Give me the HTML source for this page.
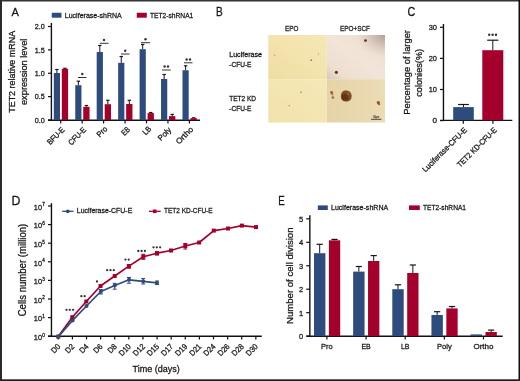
<!DOCTYPE html>
<html><head><meta charset="utf-8"><style>
html,body{margin:0;padding:0;background:#fff;}
svg{display:block;font-family:"Liberation Sans", sans-serif;will-change:transform;}
</style></head><body>
<svg width="520" height="381" viewBox="0 0 520 381">
<rect width="520" height="381" fill="#fff"/>
<rect x="0.00" y="0.00" width="520.00" height="1.50" fill="#333"/>
<rect x="0.00" y="0.00" width="2.00" height="381.00" fill="#2a2a2a"/>
<rect x="518.50" y="0.00" width="1.50" height="381.00" fill="#111"/>
<rect x="0.00" y="379.30" width="520.00" height="1.70" fill="#222"/>
<text x="11.5" y="16.4" font-size="11.6" text-anchor="start" fill="#161616" textLength="7.4" lengthAdjust="spacingAndGlyphs" stroke="#161616" stroke-width="0.28">A</text>
<rect x="51.75" y="12.75" width="9.75" height="4.95" fill="#2e4b7e"/>
<text x="64.8" y="17.7" font-size="8" text-anchor="start" fill="#161616" textLength="57" lengthAdjust="spacingAndGlyphs" stroke="#161616" stroke-width="0.28">Luciferase-shRNA</text>
<rect x="136.75" y="12.75" width="10.05" height="4.95" fill="#a3002b"/>
<text x="150" y="17.7" font-size="8" text-anchor="start" fill="#161616" textLength="43.3" lengthAdjust="spacingAndGlyphs" stroke="#161616" stroke-width="0.28">TET2-shRNA1</text>
<line x1="51.4" y1="23" x2="51.4" y2="121" stroke="#111" stroke-width="1.4"/>
<line x1="48" y1="120.3" x2="200" y2="120.3" stroke="#111" stroke-width="1.4"/>
<line x1="48" y1="26.5" x2="51.4" y2="26.5" stroke="#111" stroke-width="1.2"/>
<text x="44.8" y="29.35" font-size="8" text-anchor="end" fill="#161616" textLength="10" lengthAdjust="spacingAndGlyphs" stroke="#161616" stroke-width="0.28">2.0</text>
<line x1="48" y1="49.875" x2="51.4" y2="49.875" stroke="#111" stroke-width="1.2"/>
<text x="44.8" y="52.725" font-size="8" text-anchor="end" fill="#161616" textLength="10" lengthAdjust="spacingAndGlyphs" stroke="#161616" stroke-width="0.28">1.5</text>
<line x1="48" y1="73.25" x2="51.4" y2="73.25" stroke="#111" stroke-width="1.2"/>
<text x="44.8" y="76.1" font-size="8" text-anchor="end" fill="#161616" textLength="10" lengthAdjust="spacingAndGlyphs" stroke="#161616" stroke-width="0.28">1.0</text>
<line x1="48" y1="96.625" x2="51.4" y2="96.625" stroke="#111" stroke-width="1.2"/>
<text x="44.8" y="99.475" font-size="8" text-anchor="end" fill="#161616" textLength="10" lengthAdjust="spacingAndGlyphs" stroke="#161616" stroke-width="0.28">0.5</text>
<line x1="48" y1="120.0" x2="51.4" y2="120.0" stroke="#111" stroke-width="1.2"/>
<text x="44.8" y="122.85" font-size="8" text-anchor="end" fill="#161616" textLength="10" lengthAdjust="spacingAndGlyphs" stroke="#161616" stroke-width="0.28">0.0</text>
<line x1="56.900000000000006" y1="73" x2="56.900000000000006" y2="69.5" stroke="#161616" stroke-width="1.0"/>
<line x1="55.2" y1="69.5" x2="58.60000000000001" y2="69.5" stroke="#161616" stroke-width="1.2"/>
<line x1="64.95" y1="68.8" x2="64.95" y2="68.3" stroke="#161616" stroke-width="1.0"/>
<line x1="63.25" y1="68.3" x2="66.65" y2="68.3" stroke="#161616" stroke-width="1.2"/>
<rect x="53.80" y="73.00" width="6.20" height="47.20" fill="#2e4b7e"/>
<rect x="61.80" y="68.80" width="6.30" height="51.40" fill="#a3002b"/>
<line x1="60.7" y1="120.3" x2="60.7" y2="123.4" stroke="#111" stroke-width="1.2"/>
<line x1="78.35" y1="85.2" x2="78.35" y2="81.2" stroke="#161616" stroke-width="1.0"/>
<line x1="76.64999999999999" y1="81.2" x2="80.05" y2="81.2" stroke="#161616" stroke-width="1.2"/>
<line x1="86.4" y1="106.8" x2="86.4" y2="105.5" stroke="#161616" stroke-width="1.0"/>
<line x1="84.7" y1="105.5" x2="88.10000000000001" y2="105.5" stroke="#161616" stroke-width="1.2"/>
<rect x="75.25" y="85.20" width="6.20" height="35.00" fill="#2e4b7e"/>
<rect x="83.25" y="106.80" width="6.30" height="13.40" fill="#a3002b"/>
<line x1="82.15" y1="120.3" x2="82.15" y2="123.4" stroke="#111" stroke-width="1.2"/>
<line x1="99.79999999999998" y1="52" x2="99.79999999999998" y2="45.5" stroke="#161616" stroke-width="1.0"/>
<line x1="98.09999999999998" y1="45.5" x2="101.49999999999999" y2="45.5" stroke="#161616" stroke-width="1.2"/>
<line x1="107.85" y1="104.2" x2="107.85" y2="100.3" stroke="#161616" stroke-width="1.0"/>
<line x1="106.14999999999999" y1="100.3" x2="109.55" y2="100.3" stroke="#161616" stroke-width="1.2"/>
<rect x="96.70" y="52.00" width="6.20" height="68.20" fill="#2e4b7e"/>
<rect x="104.70" y="104.20" width="6.30" height="16.00" fill="#a3002b"/>
<line x1="103.6" y1="120.3" x2="103.6" y2="123.4" stroke="#111" stroke-width="1.2"/>
<line x1="121.25" y1="62.8" x2="121.25" y2="56.5" stroke="#161616" stroke-width="1.0"/>
<line x1="119.55" y1="56.5" x2="122.95" y2="56.5" stroke="#161616" stroke-width="1.2"/>
<line x1="129.29999999999998" y1="104" x2="129.29999999999998" y2="100.3" stroke="#161616" stroke-width="1.0"/>
<line x1="127.59999999999998" y1="100.3" x2="130.99999999999997" y2="100.3" stroke="#161616" stroke-width="1.2"/>
<rect x="118.15" y="62.80" width="6.20" height="57.40" fill="#2e4b7e"/>
<rect x="126.15" y="104.00" width="6.30" height="16.20" fill="#a3002b"/>
<line x1="125.05" y1="120.3" x2="125.05" y2="123.4" stroke="#111" stroke-width="1.2"/>
<line x1="142.7" y1="49.2" x2="142.7" y2="44.5" stroke="#161616" stroke-width="1.0"/>
<line x1="141.0" y1="44.5" x2="144.39999999999998" y2="44.5" stroke="#161616" stroke-width="1.2"/>
<line x1="150.75" y1="113.1" x2="150.75" y2="112.5" stroke="#161616" stroke-width="1.0"/>
<line x1="149.05" y1="112.5" x2="152.45" y2="112.5" stroke="#161616" stroke-width="1.2"/>
<rect x="139.60" y="49.20" width="6.20" height="71.00" fill="#2e4b7e"/>
<rect x="147.60" y="113.10" width="6.30" height="7.10" fill="#a3002b"/>
<line x1="146.5" y1="120.3" x2="146.5" y2="123.4" stroke="#111" stroke-width="1.2"/>
<line x1="164.14999999999998" y1="79" x2="164.14999999999998" y2="74.5" stroke="#161616" stroke-width="1.0"/>
<line x1="162.45" y1="74.5" x2="165.84999999999997" y2="74.5" stroke="#161616" stroke-width="1.2"/>
<line x1="172.2" y1="116.1" x2="172.2" y2="114.4" stroke="#161616" stroke-width="1.0"/>
<line x1="170.5" y1="114.4" x2="173.89999999999998" y2="114.4" stroke="#161616" stroke-width="1.2"/>
<rect x="161.05" y="79.00" width="6.20" height="41.20" fill="#2e4b7e"/>
<rect x="169.05" y="116.10" width="6.30" height="4.10" fill="#a3002b"/>
<line x1="167.95" y1="120.3" x2="167.95" y2="123.4" stroke="#111" stroke-width="1.2"/>
<line x1="185.59999999999997" y1="70.2" x2="185.59999999999997" y2="65.8" stroke="#161616" stroke-width="1.0"/>
<line x1="183.89999999999998" y1="65.8" x2="187.29999999999995" y2="65.8" stroke="#161616" stroke-width="1.2"/>
<line x1="193.64999999999998" y1="118.1" x2="193.64999999999998" y2="117.8" stroke="#161616" stroke-width="1.0"/>
<line x1="191.95" y1="117.8" x2="195.34999999999997" y2="117.8" stroke="#161616" stroke-width="1.2"/>
<rect x="182.50" y="70.20" width="6.20" height="50.00" fill="#2e4b7e"/>
<rect x="190.50" y="118.10" width="6.30" height="2.10" fill="#a3002b"/>
<line x1="189.39999999999998" y1="120.3" x2="189.39999999999998" y2="123.4" stroke="#111" stroke-width="1.2"/>
<line x1="78" y1="77.5" x2="86.5" y2="77.5" stroke="#333" stroke-width="1.0"/>
<circle cx="82.3" cy="74" r="1.2" fill="#333"/>
<line x1="99.8" y1="43.3" x2="108.5" y2="43.3" stroke="#333" stroke-width="1.0"/>
<circle cx="104.0" cy="40" r="1.2" fill="#333"/>
<line x1="121" y1="54" x2="129.5" y2="54" stroke="#333" stroke-width="1.0"/>
<circle cx="125.2" cy="50.7" r="1.2" fill="#333"/>
<line x1="141" y1="42.7" x2="150" y2="42.7" stroke="#333" stroke-width="1.0"/>
<circle cx="145.5" cy="39.3" r="1.2" fill="#333"/>
<line x1="162" y1="70" x2="170.7" y2="70" stroke="#333" stroke-width="1.0"/>
<circle cx="164.60000000000002" cy="66.5" r="1.2" fill="#333"/>
<circle cx="168.0" cy="66.5" r="1.2" fill="#333"/>
<line x1="184" y1="62.8" x2="192.5" y2="62.8" stroke="#333" stroke-width="1.0"/>
<circle cx="186.60000000000002" cy="59.5" r="1.2" fill="#333"/>
<circle cx="190.0" cy="59.5" r="1.2" fill="#333"/>
<text x="65.1" y="130.5" font-size="8" text-anchor="end" fill="#161616" textLength="21.0" lengthAdjust="spacingAndGlyphs" transform="rotate(-45 65.1 130.5)" stroke="#161616" stroke-width="0.28">BFU-E</text>
<text x="86.55" y="130.5" font-size="8" text-anchor="end" fill="#161616" textLength="21.39" lengthAdjust="spacingAndGlyphs" transform="rotate(-45 86.55 130.5)" stroke="#161616" stroke-width="0.28">CFU-E</text>
<text x="108.0" y="129.5" font-size="8" text-anchor="end" fill="#161616" textLength="11.83" lengthAdjust="spacingAndGlyphs" transform="rotate(-45 108.0 129.5)" stroke="#161616" stroke-width="0.28">Pro</text>
<text x="130.45" y="130.0" font-size="8" text-anchor="end" fill="#161616" textLength="8.32" lengthAdjust="spacingAndGlyphs" transform="rotate(-45 130.45 130.0)" stroke="#161616" stroke-width="0.28">EB</text>
<text x="151.9" y="129.5" font-size="8" text-anchor="end" fill="#161616" textLength="8.56" lengthAdjust="spacingAndGlyphs" transform="rotate(-45 151.9 129.5)" stroke="#161616" stroke-width="0.28">LB</text>
<text x="171.85" y="130.5" font-size="8" text-anchor="end" fill="#161616" textLength="15.25" lengthAdjust="spacingAndGlyphs" transform="rotate(-45 171.85 130.5)" stroke="#161616" stroke-width="0.28">Poly</text>
<text x="193.8" y="130.0" font-size="8" text-anchor="end" fill="#161616" textLength="21.01" lengthAdjust="spacingAndGlyphs" transform="rotate(-45 193.8 130.0)" stroke="#161616" stroke-width="0.28">Ortho</text>
<text x="15.2" y="71.85" font-size="9.4" text-anchor="middle" fill="#161616" textLength="81.9" lengthAdjust="spacingAndGlyphs" transform="rotate(-90 15.2 71.85)" stroke="#161616" stroke-width="0.28">TET2 relative mRNA</text>
<text x="27.2" y="71.85" font-size="9.4" text-anchor="middle" fill="#161616" textLength="66.4" lengthAdjust="spacingAndGlyphs" transform="rotate(-90 27.2 71.85)" stroke="#161616" stroke-width="0.28">expression level</text>
<text x="216.0" y="16.0" font-size="12" text-anchor="start" fill="#161616" textLength="6.7" lengthAdjust="spacingAndGlyphs" stroke="#161616" stroke-width="0.28">B</text>
<text x="285" y="31.2" font-size="8" text-anchor="start" fill="#161616" textLength="13.4" lengthAdjust="spacingAndGlyphs" stroke="#161616" stroke-width="0.28">EPO</text>
<text x="340" y="31.2" font-size="8" text-anchor="start" fill="#161616" textLength="30" lengthAdjust="spacingAndGlyphs" stroke="#161616" stroke-width="0.28">EPO+SCF</text>
<text x="229.2" y="57" font-size="7.4" text-anchor="start" fill="#161616" textLength="32.8" lengthAdjust="spacingAndGlyphs" stroke="#161616" stroke-width="0.28">Luciferase</text>
<text x="229.2" y="66.8" font-size="7.4" text-anchor="start" fill="#161616" textLength="22.3" lengthAdjust="spacingAndGlyphs" stroke="#161616" stroke-width="0.28">-CFU-E</text>
<text x="229.2" y="101" font-size="7.4" text-anchor="start" fill="#161616" textLength="26.8" lengthAdjust="spacingAndGlyphs" stroke="#161616" stroke-width="0.28">TET2 KD</text>
<text x="229.2" y="110.8" font-size="7.4" text-anchor="start" fill="#161616" textLength="22.3" lengthAdjust="spacingAndGlyphs" stroke="#161616" stroke-width="0.28">-CFU-E</text>
<defs>
<linearGradient id="gTL" x1="0" y1="1" x2="1" y2="0"><stop offset="0" stop-color="#eedda2"/><stop offset="0.5" stop-color="#f3e3ac"/><stop offset="1" stop-color="#f5e8b6"/></linearGradient>
<linearGradient id="gTR" x1="0" y1="1" x2="1" y2="0"><stop offset="0" stop-color="#d8c8c0"/><stop offset="0.18" stop-color="#ecdfd0"/><stop offset="0.5" stop-color="#f2e5d8"/><stop offset="0.8" stop-color="#eee0d2"/><stop offset="1" stop-color="#e0d0c4"/></linearGradient>
<radialGradient id="gTRc" cx="1" cy="0" r="0.5"><stop offset="0" stop-color="#a09088" stop-opacity="0.75"/><stop offset="1" stop-color="#c0aca0" stop-opacity="0"/></radialGradient>
<linearGradient id="gBL" x1="0" y1="1" x2="1" y2="0"><stop offset="0" stop-color="#f2e2aa"/><stop offset="1" stop-color="#f5e8b8"/></linearGradient>
<linearGradient id="gBR" x1="0" y1="0" x2="1" y2="0"><stop offset="0" stop-color="#e6d3a8"/><stop offset="0.6" stop-color="#e9d8ae"/><stop offset="1" stop-color="#ecdcb4"/></linearGradient>
<filter id="bl" x="-50%" y="-50%" width="200%" height="200%"><feGaussianBlur stdDeviation="0.5"/></filter>
</defs>
<rect x="268.3" y="35" width="58.5" height="44.2" fill="url(#gTL)"/>
<rect x="326.8" y="35" width="58.2" height="44.2" fill="url(#gTR)"/>
<rect x="326.8" y="35" width="58.2" height="44.2" fill="url(#gTRc)"/>
<rect x="268.3" y="79.2" width="58.5" height="43.3" fill="url(#gBL)"/>
<rect x="326.8" y="79.2" width="58.2" height="43.3" fill="url(#gBR)"/>
<g filter="url(#bl)">
<circle cx="274.6" cy="55.2" r="0.7" fill="#c89060"/>
<circle cx="311.2" cy="60.2" r="0.9" fill="#b87040"/>
<circle cx="318.5" cy="54" r="0.7" fill="#c89060"/>
<circle cx="365.5" cy="40.6" r="1.4" fill="#6b3414"/>
<circle cx="336.4" cy="72.3" r="1.6" fill="#6b3414"/>
<circle cx="301" cy="92.3" r="0.8" fill="#b87840"/>
<circle cx="289.2" cy="105.7" r="0.8" fill="#c89060"/>
<circle cx="331.6" cy="92.6" r="1.5" fill="#9a5c30"/>
<circle cx="332.4" cy="94.4" r="1.0" fill="#b07848"/>
<circle cx="332.9" cy="97.5" r="1.3" fill="#a06838"/>
<circle cx="378.3" cy="102.6" r="1.6" fill="#8f5428"/>
<circle cx="379" cy="104" r="1.2" fill="#9a6030"/>
<circle cx="346" cy="96" r="5.3" fill="#9a6a3a" opacity="0.6"/>
<path d="M341.2,94 Q342.5,90.5 345.5,90.6 Q348.6,90 350.6,92.5 Q352.3,95 351.4,98.2 Q350.2,101.3 346.8,101.4 Q343,101.8 341.5,99.2 Q340.6,96.8 341.2,94Z" fill="#7c4a22"/>
<circle cx="345" cy="97.2" r="3.3" fill="#5e3414"/>
<circle cx="348.5" cy="93.8" r="1.8" fill="#8a5a30"/>
</g>
<line x1="371" y1="119.3" x2="381.4" y2="119.3" stroke="#222" stroke-width="0.8"/>
<text x="376.2" y="117.6" font-size="2.6" text-anchor="middle" fill="#333" textLength="6" lengthAdjust="spacingAndGlyphs" stroke="#333" stroke-width="0.1">50μm</text>
<text x="407.4" y="16.3" font-size="12.4" text-anchor="start" fill="#161616" textLength="7.8" lengthAdjust="spacingAndGlyphs" stroke="#161616" stroke-width="0.28">C</text>
<line x1="443.45" y1="24" x2="443.45" y2="121" stroke="#111" stroke-width="1.4"/>
<line x1="440" y1="120.35" x2="512.3" y2="120.35" stroke="#111" stroke-width="1.4"/>
<line x1="440" y1="27.299999999999997" x2="443.4" y2="27.299999999999997" stroke="#111" stroke-width="1.2"/>
<text x="437" y="30.15" font-size="8" text-anchor="end" fill="#161616" textLength="8.3" lengthAdjust="spacingAndGlyphs" stroke="#161616" stroke-width="0.28">30</text>
<line x1="440" y1="58.4" x2="443.4" y2="58.4" stroke="#111" stroke-width="1.2"/>
<text x="437" y="61.25" font-size="8" text-anchor="end" fill="#161616" textLength="8.3" lengthAdjust="spacingAndGlyphs" stroke="#161616" stroke-width="0.28">20</text>
<line x1="440" y1="89.5" x2="443.4" y2="89.5" stroke="#111" stroke-width="1.2"/>
<text x="437" y="92.35" font-size="8" text-anchor="end" fill="#161616" textLength="8.3" lengthAdjust="spacingAndGlyphs" stroke="#161616" stroke-width="0.28">10</text>
<line x1="440" y1="120.6" x2="443.4" y2="120.6" stroke="#111" stroke-width="1.2"/>
<text x="437" y="123.44999999999999" font-size="8" text-anchor="end" fill="#161616" textLength="4.5" lengthAdjust="spacingAndGlyphs" stroke="#161616" stroke-width="0.28">0</text>
<line x1="463.5" y1="107.1" x2="463.5" y2="104.5" stroke="#161616" stroke-width="1.0"/>
<line x1="458.1" y1="104.5" x2="468.9" y2="104.5" stroke="#161616" stroke-width="1.2"/>
<rect x="453.20" y="107.10" width="20.60" height="13.20" fill="#2e4b7e"/>
<line x1="492.8" y1="50.2" x2="492.8" y2="40.2" stroke="#161616" stroke-width="1.0"/>
<line x1="487.2" y1="40.2" x2="498.40000000000003" y2="40.2" stroke="#161616" stroke-width="1.2"/>
<rect x="482.30" y="50.20" width="21.00" height="70.10" fill="#a3002b"/>
<circle cx="489.20000000000005" cy="34.7" r="1.2" fill="#333"/>
<circle cx="492.6" cy="34.7" r="1.2" fill="#333"/>
<circle cx="496.0" cy="34.7" r="1.2" fill="#333"/>
<line x1="463.3" y1="120.3" x2="463.3" y2="123.7" stroke="#111" stroke-width="1.2"/>
<line x1="492.9" y1="120.3" x2="492.9" y2="123.7" stroke="#111" stroke-width="1.2"/>
<text x="467.5" y="130.7" font-size="8" text-anchor="end" fill="#161616" textLength="59.22" lengthAdjust="spacingAndGlyphs" transform="rotate(-45 467.5 130.7)" stroke="#161616" stroke-width="0.28">Luciferase-CFU-E</text>
<text x="497.4" y="130.7" font-size="8" text-anchor="end" fill="#161616" textLength="52.51" lengthAdjust="spacingAndGlyphs" transform="rotate(-45 497.4 130.7)" stroke="#161616" stroke-width="0.28">TET2 KD-CFU-E</text>
<text x="410" y="72.35" font-size="9.8" text-anchor="middle" fill="#161616" textLength="84.7" lengthAdjust="spacingAndGlyphs" transform="rotate(-90 410 72.35)" stroke="#161616" stroke-width="0.28">Percentage of larger</text>
<text x="422.3" y="72.85" font-size="9.8" text-anchor="middle" fill="#161616" textLength="47.9" lengthAdjust="spacingAndGlyphs" transform="rotate(-90 422.3 72.85)" stroke="#161616" stroke-width="0.28">colonies(%)</text>
<text x="11.4" y="204.8" font-size="12.4" text-anchor="start" fill="#161616" textLength="8.9" lengthAdjust="spacingAndGlyphs" stroke="#161616" stroke-width="0.28">D</text>
<line x1="51.45" y1="203.2" x2="51.45" y2="336.9" stroke="#111" stroke-width="1.4"/>
<line x1="48.0" y1="336.2" x2="261.8" y2="336.2" stroke="#111" stroke-width="1.4"/>
<line x1="48" y1="336.2" x2="51.4" y2="336.2" stroke="#111" stroke-width="1.2"/>
<text x="42" y="340.0" font-size="8" text-anchor="end" fill="#161616" textLength="8.2" lengthAdjust="spacingAndGlyphs" stroke="#161616" stroke-width="0.28">10</text>
<text x="42.3" y="336.59999999999997" font-size="5" text-anchor="start" fill="#161616" textLength="2.6" lengthAdjust="spacingAndGlyphs" stroke="#161616" stroke-width="0.28">0</text>
<line x1="48" y1="317.59999999999997" x2="51.4" y2="317.59999999999997" stroke="#111" stroke-width="1.2"/>
<text x="42" y="321.4" font-size="8" text-anchor="end" fill="#161616" textLength="8.2" lengthAdjust="spacingAndGlyphs" stroke="#161616" stroke-width="0.28">10</text>
<text x="42.3" y="317.99999999999994" font-size="5" text-anchor="start" fill="#161616" textLength="2.6" lengthAdjust="spacingAndGlyphs" stroke="#161616" stroke-width="0.28">1</text>
<line x1="48" y1="299.0" x2="51.4" y2="299.0" stroke="#111" stroke-width="1.2"/>
<text x="42" y="302.8" font-size="8" text-anchor="end" fill="#161616" textLength="8.2" lengthAdjust="spacingAndGlyphs" stroke="#161616" stroke-width="0.28">10</text>
<text x="42.3" y="299.4" font-size="5" text-anchor="start" fill="#161616" textLength="2.6" lengthAdjust="spacingAndGlyphs" stroke="#161616" stroke-width="0.28">2</text>
<line x1="48" y1="280.4" x2="51.4" y2="280.4" stroke="#111" stroke-width="1.2"/>
<text x="42" y="284.2" font-size="8" text-anchor="end" fill="#161616" textLength="8.2" lengthAdjust="spacingAndGlyphs" stroke="#161616" stroke-width="0.28">10</text>
<text x="42.3" y="280.79999999999995" font-size="5" text-anchor="start" fill="#161616" textLength="2.6" lengthAdjust="spacingAndGlyphs" stroke="#161616" stroke-width="0.28">3</text>
<line x1="48" y1="261.79999999999995" x2="51.4" y2="261.79999999999995" stroke="#111" stroke-width="1.2"/>
<text x="42" y="265.59999999999997" font-size="8" text-anchor="end" fill="#161616" textLength="8.2" lengthAdjust="spacingAndGlyphs" stroke="#161616" stroke-width="0.28">10</text>
<text x="42.3" y="262.19999999999993" font-size="5" text-anchor="start" fill="#161616" textLength="2.6" lengthAdjust="spacingAndGlyphs" stroke="#161616" stroke-width="0.28">4</text>
<line x1="48" y1="243.2" x2="51.4" y2="243.2" stroke="#111" stroke-width="1.2"/>
<text x="42" y="247.0" font-size="8" text-anchor="end" fill="#161616" textLength="8.2" lengthAdjust="spacingAndGlyphs" stroke="#161616" stroke-width="0.28">10</text>
<text x="42.3" y="243.6" font-size="5" text-anchor="start" fill="#161616" textLength="2.6" lengthAdjust="spacingAndGlyphs" stroke="#161616" stroke-width="0.28">5</text>
<line x1="48" y1="224.59999999999997" x2="51.4" y2="224.59999999999997" stroke="#111" stroke-width="1.2"/>
<text x="42" y="228.39999999999998" font-size="8" text-anchor="end" fill="#161616" textLength="8.2" lengthAdjust="spacingAndGlyphs" stroke="#161616" stroke-width="0.28">10</text>
<text x="42.3" y="224.99999999999997" font-size="5" text-anchor="start" fill="#161616" textLength="2.6" lengthAdjust="spacingAndGlyphs" stroke="#161616" stroke-width="0.28">6</text>
<line x1="48" y1="205.99999999999997" x2="51.4" y2="205.99999999999997" stroke="#111" stroke-width="1.2"/>
<text x="42" y="209.79999999999998" font-size="8" text-anchor="end" fill="#161616" textLength="8.2" lengthAdjust="spacingAndGlyphs" stroke="#161616" stroke-width="0.28">10</text>
<text x="42.3" y="206.39999999999998" font-size="5" text-anchor="start" fill="#161616" textLength="2.6" lengthAdjust="spacingAndGlyphs" stroke="#161616" stroke-width="0.28">7</text>
<line x1="58.3" y1="336.2" x2="58.3" y2="339.4" stroke="#111" stroke-width="1.2"/>
<text x="60.9" y="347" font-size="8" text-anchor="end" fill="#161616" textLength="9.41" lengthAdjust="spacingAndGlyphs" transform="rotate(-45 60.9 347)" stroke="#161616" stroke-width="0.28">D0</text>
<line x1="72.41" y1="336.2" x2="72.41" y2="339.4" stroke="#111" stroke-width="1.2"/>
<text x="75.01" y="347" font-size="8" text-anchor="end" fill="#161616" textLength="9.41" lengthAdjust="spacingAndGlyphs" transform="rotate(-45 75.01 347)" stroke="#161616" stroke-width="0.28">D2</text>
<line x1="86.52" y1="336.2" x2="86.52" y2="339.4" stroke="#111" stroke-width="1.2"/>
<text x="89.12" y="347" font-size="8" text-anchor="end" fill="#161616" textLength="9.41" lengthAdjust="spacingAndGlyphs" transform="rotate(-45 89.12 347)" stroke="#161616" stroke-width="0.28">D4</text>
<line x1="100.63" y1="336.2" x2="100.63" y2="339.4" stroke="#111" stroke-width="1.2"/>
<text x="103.23" y="347" font-size="8" text-anchor="end" fill="#161616" textLength="9.41" lengthAdjust="spacingAndGlyphs" transform="rotate(-45 103.23 347)" stroke="#161616" stroke-width="0.28">D6</text>
<line x1="114.74" y1="336.2" x2="114.74" y2="339.4" stroke="#111" stroke-width="1.2"/>
<text x="117.34" y="347" font-size="8" text-anchor="end" fill="#161616" textLength="9.41" lengthAdjust="spacingAndGlyphs" transform="rotate(-45 117.34 347)" stroke="#161616" stroke-width="0.28">D8</text>
<line x1="128.85" y1="336.2" x2="128.85" y2="339.4" stroke="#111" stroke-width="1.2"/>
<text x="131.45" y="347" font-size="8" text-anchor="end" fill="#161616" textLength="13.5" lengthAdjust="spacingAndGlyphs" transform="rotate(-45 131.45 347)" stroke="#161616" stroke-width="0.28">D10</text>
<line x1="142.95999999999998" y1="336.2" x2="142.95999999999998" y2="339.4" stroke="#111" stroke-width="1.2"/>
<text x="145.56" y="347" font-size="8" text-anchor="end" fill="#161616" textLength="13.5" lengthAdjust="spacingAndGlyphs" transform="rotate(-45 145.56 347)" stroke="#161616" stroke-width="0.28">D12</text>
<line x1="157.07" y1="336.2" x2="157.07" y2="339.4" stroke="#111" stroke-width="1.2"/>
<text x="159.67" y="347" font-size="8" text-anchor="end" fill="#161616" textLength="13.5" lengthAdjust="spacingAndGlyphs" transform="rotate(-45 159.67 347)" stroke="#161616" stroke-width="0.28">D15</text>
<line x1="171.18" y1="336.2" x2="171.18" y2="339.4" stroke="#111" stroke-width="1.2"/>
<text x="173.78" y="347" font-size="8" text-anchor="end" fill="#161616" textLength="13.5" lengthAdjust="spacingAndGlyphs" transform="rotate(-45 173.78 347)" stroke="#161616" stroke-width="0.28">D17</text>
<line x1="185.29" y1="336.2" x2="185.29" y2="339.4" stroke="#111" stroke-width="1.2"/>
<text x="187.89" y="347" font-size="8" text-anchor="end" fill="#161616" textLength="13.5" lengthAdjust="spacingAndGlyphs" transform="rotate(-45 187.89 347)" stroke="#161616" stroke-width="0.28">D19</text>
<line x1="199.39999999999998" y1="336.2" x2="199.39999999999998" y2="339.4" stroke="#111" stroke-width="1.2"/>
<text x="202.0" y="347" font-size="8" text-anchor="end" fill="#161616" textLength="13.5" lengthAdjust="spacingAndGlyphs" transform="rotate(-45 202.0 347)" stroke="#161616" stroke-width="0.28">D21</text>
<line x1="213.51" y1="336.2" x2="213.51" y2="339.4" stroke="#111" stroke-width="1.2"/>
<text x="216.11" y="347" font-size="8" text-anchor="end" fill="#161616" textLength="13.5" lengthAdjust="spacingAndGlyphs" transform="rotate(-45 216.11 347)" stroke="#161616" stroke-width="0.28">D24</text>
<line x1="227.62" y1="336.2" x2="227.62" y2="339.4" stroke="#111" stroke-width="1.2"/>
<text x="230.22" y="347" font-size="8" text-anchor="end" fill="#161616" textLength="13.5" lengthAdjust="spacingAndGlyphs" transform="rotate(-45 230.22 347)" stroke="#161616" stroke-width="0.28">D26</text>
<line x1="241.73000000000002" y1="336.2" x2="241.73000000000002" y2="339.4" stroke="#111" stroke-width="1.2"/>
<text x="244.33" y="347" font-size="8" text-anchor="end" fill="#161616" textLength="13.5" lengthAdjust="spacingAndGlyphs" transform="rotate(-45 244.33 347)" stroke="#161616" stroke-width="0.28">D28</text>
<line x1="255.83999999999997" y1="336.2" x2="255.83999999999997" y2="339.4" stroke="#111" stroke-width="1.2"/>
<text x="258.44" y="347" font-size="8" text-anchor="end" fill="#161616" textLength="13.5" lengthAdjust="spacingAndGlyphs" transform="rotate(-45 258.44 347)" stroke="#161616" stroke-width="0.28">D30</text>
<text x="156.2" y="371.9" font-size="9.8" text-anchor="middle" fill="#161616" textLength="47.3" lengthAdjust="spacingAndGlyphs" stroke="#161616" stroke-width="0.28">Time (days)</text>
<text x="26.4" y="270" font-size="10" text-anchor="middle" fill="#161616" textLength="92.6" lengthAdjust="spacingAndGlyphs" transform="rotate(-90 26.4 270)" stroke="#161616" stroke-width="0.28">Cells number (million)</text>
<line x1="62.2" y1="211.3" x2="73.5" y2="211.3" stroke="#2e4b7e" stroke-width="1.3"/>
<circle cx="67.8" cy="211.3" r="1.9" fill="#2e4b7e"/>
<text x="76.8" y="213.3" font-size="8" text-anchor="start" fill="#161616" textLength="55.5" lengthAdjust="spacingAndGlyphs" stroke="#161616" stroke-width="0.28">Luciferase-CFU-E</text>
<line x1="149" y1="211.3" x2="160.7" y2="211.3" stroke="#a3002b" stroke-width="1.3"/>
<rect x="152.90" y="209.50" width="3.60" height="3.60" fill="#a3002b"/>
<text x="164" y="213.3" font-size="8" text-anchor="start" fill="#161616" textLength="48.7" lengthAdjust="spacingAndGlyphs" stroke="#161616" stroke-width="0.28">TET2 KD-CFU-E</text>
<polyline points="58.3,336.6 72.3,317.2 86.3,301.5 100.5,286 114.7,276 128.9,266.1 143.3,256.8 157,253.2 171,250.5 185.3,246 199.2,242.5 213.8,230.6 228,228.5 241.9,225.6 256,227.1" fill="none" stroke="#a3002b" stroke-width="1.7" stroke-linejoin="round"/>
<rect x="56.30" y="334.60" width="4.00" height="4.00" fill="#a3002b"/>
<rect x="70.30" y="315.20" width="4.00" height="4.00" fill="#a3002b"/>
<rect x="84.30" y="299.50" width="4.00" height="4.00" fill="#a3002b"/>
<rect x="98.50" y="284.00" width="4.00" height="4.00" fill="#a3002b"/>
<rect x="112.70" y="274.00" width="4.00" height="4.00" fill="#a3002b"/>
<rect x="126.90" y="264.10" width="4.00" height="4.00" fill="#a3002b"/>
<rect x="141.30" y="254.80" width="4.00" height="4.00" fill="#a3002b"/>
<rect x="155.00" y="251.20" width="4.00" height="4.00" fill="#a3002b"/>
<rect x="169.00" y="248.50" width="4.00" height="4.00" fill="#a3002b"/>
<rect x="183.30" y="244.00" width="4.00" height="4.00" fill="#a3002b"/>
<rect x="197.20" y="240.50" width="4.00" height="4.00" fill="#a3002b"/>
<rect x="211.80" y="228.60" width="4.00" height="4.00" fill="#a3002b"/>
<rect x="226.00" y="226.50" width="4.00" height="4.00" fill="#a3002b"/>
<rect x="239.90" y="223.60" width="4.00" height="4.00" fill="#a3002b"/>
<rect x="254.00" y="225.10" width="4.00" height="4.00" fill="#a3002b"/>
<line x1="128.9" y1="264.5" x2="128.9" y2="268.2" stroke="#a3002b" stroke-width="1"/>
<line x1="126.9" y1="264.5" x2="130.9" y2="264.5" stroke="#a3002b" stroke-width="1"/>
<line x1="126.9" y1="268.2" x2="130.9" y2="268.2" stroke="#a3002b" stroke-width="1"/>
<line x1="143.3" y1="254.3" x2="143.3" y2="259.3" stroke="#a3002b" stroke-width="1"/>
<line x1="141.3" y1="254.3" x2="145.3" y2="254.3" stroke="#a3002b" stroke-width="1"/>
<line x1="141.3" y1="259.3" x2="145.3" y2="259.3" stroke="#a3002b" stroke-width="1"/>
<line x1="157" y1="251.5" x2="157" y2="255" stroke="#a3002b" stroke-width="1"/>
<line x1="155" y1="251.5" x2="159" y2="251.5" stroke="#a3002b" stroke-width="1"/>
<line x1="155" y1="255" x2="159" y2="255" stroke="#a3002b" stroke-width="1"/>
<line x1="185.3" y1="243.5" x2="185.3" y2="249" stroke="#a3002b" stroke-width="1"/>
<line x1="183.3" y1="243.5" x2="187.3" y2="243.5" stroke="#a3002b" stroke-width="1"/>
<line x1="183.3" y1="249" x2="187.3" y2="249" stroke="#a3002b" stroke-width="1"/>
<polyline points="58.3,336.6 72.6,320.4 86.5,306 100.8,291.5 114.7,285.5 129,279.8 143.2,281.3 157,282.8" fill="none" stroke="#2e4b7e" stroke-width="1.7" stroke-linejoin="round"/>
<line x1="100.8" y1="289.5" x2="100.8" y2="294" stroke="#2e4b7e" stroke-width="1"/>
<line x1="98.8" y1="289.5" x2="102.8" y2="289.5" stroke="#2e4b7e" stroke-width="1"/>
<line x1="98.8" y1="294" x2="102.8" y2="294" stroke="#2e4b7e" stroke-width="1"/>
<line x1="114.7" y1="283.3" x2="114.7" y2="289.2" stroke="#2e4b7e" stroke-width="1"/>
<line x1="112.7" y1="283.3" x2="116.7" y2="283.3" stroke="#2e4b7e" stroke-width="1"/>
<line x1="112.7" y1="289.2" x2="116.7" y2="289.2" stroke="#2e4b7e" stroke-width="1"/>
<line x1="129" y1="277.5" x2="129" y2="283.2" stroke="#2e4b7e" stroke-width="1"/>
<line x1="127" y1="277.5" x2="131" y2="277.5" stroke="#2e4b7e" stroke-width="1"/>
<line x1="127" y1="283.2" x2="131" y2="283.2" stroke="#2e4b7e" stroke-width="1"/>
<line x1="143.2" y1="278.5" x2="143.2" y2="284" stroke="#2e4b7e" stroke-width="1"/>
<line x1="141.2" y1="278.5" x2="145.2" y2="278.5" stroke="#2e4b7e" stroke-width="1"/>
<line x1="141.2" y1="284" x2="145.2" y2="284" stroke="#2e4b7e" stroke-width="1"/>
<line x1="157" y1="281" x2="157" y2="284.5" stroke="#2e4b7e" stroke-width="1"/>
<line x1="155" y1="281" x2="159" y2="281" stroke="#2e4b7e" stroke-width="1"/>
<line x1="155" y1="284.5" x2="159" y2="284.5" stroke="#2e4b7e" stroke-width="1"/>
<circle cx="58.3" cy="336.6" r="2.0" fill="#2e4b7e"/>
<circle cx="72.6" cy="320.4" r="2.0" fill="#2e4b7e"/>
<circle cx="86.5" cy="306" r="2.0" fill="#2e4b7e"/>
<circle cx="100.8" cy="291.5" r="2.0" fill="#2e4b7e"/>
<circle cx="114.7" cy="285.5" r="2.0" fill="#2e4b7e"/>
<circle cx="129" cy="279.8" r="2.0" fill="#2e4b7e"/>
<circle cx="143.2" cy="281.3" r="2.0" fill="#2e4b7e"/>
<circle cx="157" cy="282.8" r="2.0" fill="#2e4b7e"/>
<circle cx="66.5" cy="309.8" r="1.15" fill="#333"/>
<circle cx="69.8" cy="309.8" r="1.15" fill="#333"/>
<circle cx="73.1" cy="309.8" r="1.15" fill="#333"/>
<circle cx="81.35" cy="296.2" r="1.15" fill="#333"/>
<circle cx="84.65" cy="296.2" r="1.15" fill="#333"/>
<circle cx="97.0" cy="281.5" r="1.15" fill="#333"/>
<circle cx="107.2" cy="270.2" r="1.15" fill="#333"/>
<circle cx="110.5" cy="270.2" r="1.15" fill="#333"/>
<circle cx="113.8" cy="270.2" r="1.15" fill="#333"/>
<circle cx="125.44999999999999" cy="259.6" r="1.15" fill="#333"/>
<circle cx="128.75" cy="259.6" r="1.15" fill="#333"/>
<circle cx="138.29999999999998" cy="251" r="1.15" fill="#333"/>
<circle cx="141.6" cy="251" r="1.15" fill="#333"/>
<circle cx="144.9" cy="251" r="1.15" fill="#333"/>
<circle cx="153.5" cy="247.3" r="1.15" fill="#333"/>
<circle cx="156.8" cy="247.3" r="1.15" fill="#333"/>
<circle cx="160.10000000000002" cy="247.3" r="1.15" fill="#333"/>
<text x="278.2" y="205.0" font-size="12.6" text-anchor="start" fill="#161616" textLength="6.5" lengthAdjust="spacingAndGlyphs" stroke="#161616" stroke-width="0.28">E</text>
<rect x="317.80" y="205.40" width="10.00" height="4.60" fill="#2e4b7e"/>
<text x="331" y="210" font-size="8" text-anchor="start" fill="#161616" textLength="57.2" lengthAdjust="spacingAndGlyphs" stroke="#161616" stroke-width="0.28">Luciferase-shRNA</text>
<rect x="409.00" y="205.40" width="10.80" height="4.60" fill="#a3002b"/>
<text x="423" y="210" font-size="8" text-anchor="start" fill="#161616" textLength="43" lengthAdjust="spacingAndGlyphs" stroke="#161616" stroke-width="0.28">TET2-shRNA1</text>
<line x1="309.85" y1="215.2" x2="309.85" y2="337" stroke="#111" stroke-width="1.4"/>
<line x1="306.5" y1="336.3" x2="502.7" y2="336.3" stroke="#111" stroke-width="1.4"/>
<line x1="306.2" y1="336.1" x2="309.9" y2="336.1" stroke="#111" stroke-width="1.2"/>
<text x="303.3" y="338.95000000000005" font-size="8" text-anchor="end" fill="#161616" textLength="4.2" lengthAdjust="spacingAndGlyphs" stroke="#161616" stroke-width="0.28">0</text>
<line x1="306.2" y1="312.65000000000003" x2="309.9" y2="312.65000000000003" stroke="#111" stroke-width="1.2"/>
<text x="303.3" y="315.50000000000006" font-size="8" text-anchor="end" fill="#161616" textLength="4.2" lengthAdjust="spacingAndGlyphs" stroke="#161616" stroke-width="0.28">1</text>
<line x1="306.2" y1="289.20000000000005" x2="309.9" y2="289.20000000000005" stroke="#111" stroke-width="1.2"/>
<text x="303.3" y="292.05000000000007" font-size="8" text-anchor="end" fill="#161616" textLength="4.2" lengthAdjust="spacingAndGlyphs" stroke="#161616" stroke-width="0.28">2</text>
<line x1="306.2" y1="265.75" x2="309.9" y2="265.75" stroke="#111" stroke-width="1.2"/>
<text x="303.3" y="268.6" font-size="8" text-anchor="end" fill="#161616" textLength="4.2" lengthAdjust="spacingAndGlyphs" stroke="#161616" stroke-width="0.28">3</text>
<line x1="306.2" y1="242.3" x2="309.9" y2="242.3" stroke="#111" stroke-width="1.2"/>
<text x="303.3" y="245.15" font-size="8" text-anchor="end" fill="#161616" textLength="4.2" lengthAdjust="spacingAndGlyphs" stroke="#161616" stroke-width="0.28">4</text>
<line x1="306.2" y1="218.85000000000002" x2="309.9" y2="218.85000000000002" stroke="#111" stroke-width="1.2"/>
<text x="303.3" y="221.70000000000002" font-size="8" text-anchor="end" fill="#161616" textLength="4.2" lengthAdjust="spacingAndGlyphs" stroke="#161616" stroke-width="0.28">5</text>
<line x1="319.7" y1="253.2" x2="319.7" y2="244.3" stroke="#161616" stroke-width="1.0"/>
<line x1="316.59999999999997" y1="244.3" x2="322.8" y2="244.3" stroke="#161616" stroke-width="1.2"/>
<line x1="334.54999999999995" y1="240.3" x2="334.54999999999995" y2="239.4" stroke="#161616" stroke-width="1.0"/>
<line x1="331.44999999999993" y1="239.4" x2="337.65" y2="239.4" stroke="#161616" stroke-width="1.2"/>
<rect x="314.00" y="253.20" width="11.40" height="82.90" fill="#2e4b7e"/>
<rect x="328.90" y="240.30" width="11.30" height="95.80" fill="#a3002b"/>
<line x1="326.9" y1="336.3" x2="326.9" y2="339.4" stroke="#111" stroke-width="1.2"/>
<text x="326.9" y="349.2" font-size="8" text-anchor="middle" fill="#161616" textLength="11.58" lengthAdjust="spacingAndGlyphs" stroke="#161616" stroke-width="0.28">Pro</text>
<line x1="358.84999999999997" y1="271.6" x2="358.84999999999997" y2="266.5" stroke="#161616" stroke-width="1.0"/>
<line x1="355.74999999999994" y1="266.5" x2="361.95" y2="266.5" stroke="#161616" stroke-width="1.2"/>
<line x1="373.69999999999993" y1="261" x2="373.69999999999993" y2="255.6" stroke="#161616" stroke-width="1.0"/>
<line x1="370.5999999999999" y1="255.6" x2="376.79999999999995" y2="255.6" stroke="#161616" stroke-width="1.2"/>
<rect x="353.15" y="271.60" width="11.40" height="64.50" fill="#2e4b7e"/>
<rect x="368.05" y="261.00" width="11.30" height="75.10" fill="#a3002b"/>
<line x1="366.04999999999995" y1="336.3" x2="366.04999999999995" y2="339.4" stroke="#111" stroke-width="1.2"/>
<text x="366.04999999999995" y="349.2" font-size="8" text-anchor="middle" fill="#161616" textLength="9.28" lengthAdjust="spacingAndGlyphs" stroke="#161616" stroke-width="0.28">EB</text>
<line x1="398.0" y1="289.2" x2="398.0" y2="284.8" stroke="#161616" stroke-width="1.0"/>
<line x1="394.9" y1="284.8" x2="401.1" y2="284.8" stroke="#161616" stroke-width="1.2"/>
<line x1="412.85" y1="273" x2="412.85" y2="265" stroke="#161616" stroke-width="1.0"/>
<line x1="409.75" y1="265" x2="415.95000000000005" y2="265" stroke="#161616" stroke-width="1.2"/>
<rect x="392.30" y="289.20" width="11.40" height="46.90" fill="#2e4b7e"/>
<rect x="407.20" y="273.00" width="11.30" height="63.10" fill="#a3002b"/>
<line x1="405.2" y1="336.3" x2="405.2" y2="339.4" stroke="#111" stroke-width="1.2"/>
<text x="405.2" y="349.2" font-size="8" text-anchor="middle" fill="#161616" textLength="8.51" lengthAdjust="spacingAndGlyphs" stroke="#161616" stroke-width="0.28">LB</text>
<line x1="437.15" y1="315" x2="437.15" y2="311.7" stroke="#161616" stroke-width="1.0"/>
<line x1="434.04999999999995" y1="311.7" x2="440.25" y2="311.7" stroke="#161616" stroke-width="1.2"/>
<line x1="452.0" y1="308.4" x2="452.0" y2="306.5" stroke="#161616" stroke-width="1.0"/>
<line x1="448.9" y1="306.5" x2="455.1" y2="306.5" stroke="#161616" stroke-width="1.2"/>
<rect x="431.45" y="315.00" width="11.40" height="21.10" fill="#2e4b7e"/>
<rect x="446.35" y="308.40" width="11.30" height="27.70" fill="#a3002b"/>
<line x1="444.34999999999997" y1="336.3" x2="444.34999999999997" y2="339.4" stroke="#111" stroke-width="1.2"/>
<text x="444.34999999999997" y="349.2" font-size="8" text-anchor="middle" fill="#161616" textLength="14.79" lengthAdjust="spacingAndGlyphs" stroke="#161616" stroke-width="0.28">Poly</text>
<line x1="491.15" y1="332" x2="491.15" y2="330.1" stroke="#161616" stroke-width="1.0"/>
<line x1="488.04999999999995" y1="330.1" x2="494.25" y2="330.1" stroke="#161616" stroke-width="1.2"/>
<rect x="470.60" y="334.40" width="11.40" height="1.70" fill="#2e4b7e"/>
<rect x="485.50" y="332.00" width="11.30" height="4.10" fill="#a3002b"/>
<line x1="483.5" y1="336.3" x2="483.5" y2="339.4" stroke="#111" stroke-width="1.2"/>
<text x="483.5" y="349.2" font-size="8" text-anchor="middle" fill="#161616" textLength="20.01" lengthAdjust="spacingAndGlyphs" stroke="#161616" stroke-width="0.28">Ortho</text>
<text x="293.2" y="275.75" font-size="9.8" text-anchor="middle" fill="#161616" textLength="96.5" lengthAdjust="spacingAndGlyphs" transform="rotate(-90 293.2 275.75)" stroke="#161616" stroke-width="0.28">Number of cell division</text>
</svg></body></html>
